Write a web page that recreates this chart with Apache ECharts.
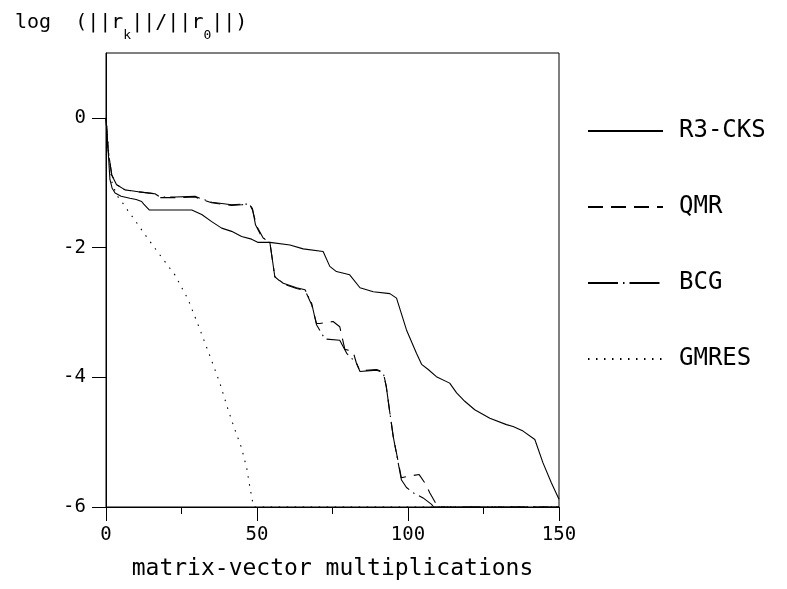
<!DOCTYPE html>
<html>
<head>
<meta charset="utf-8">
<script src="https://cdn.jsdelivr.net/npm/echarts@6/dist/echarts.min.js"></script>
<style>
	html, body { margin: 0; padding: 0; background: #fff; }
	#main { width: 787px; height: 589px; }
</style>
</head>
<body>
<div id="main"></div>
<script>
/* 数据 [matrix-vector multiplications, log(||r_k||/||r_0||)] */
var seriesNames = ['R3-CKS', 'QMR', 'BCG', 'GMRES'];
var xTicks = [0, 50, 100, 150];
var yTicks = [-6, -4, -2, 0];

var r3cks = [[0, 0], [0.7, -0.5], [1.3, -0.95], [2, -1.08], [3, -1.16], [5, -1.21], [7.9, -1.24], [10, -1.26],
	[11.8, -1.29], [12.5, -1.33], [14.3, -1.42], [20, -1.42], [28.4, -1.42], [31.7, -1.49], [35, -1.60],
	[38.3, -1.70], [41.6, -1.75], [44.9, -1.83], [48.2, -1.87], [50.4, -1.92], [54.3, -1.92], [60.9, -1.96],
	[65.3, -2.02], [71.9, -2.06], [74.1, -2.29], [76.3, -2.37], [80.7, -2.42], [84.1, -2.62], [88.5, -2.68],
	[94, -2.71], [96.2, -2.78], [99.5, -3.27], [102.8, -3.63], [104.5, -3.80], [106.7, -3.88], [109.4, -3.99],
	[113.8, -4.09], [116.1, -4.24], [118.8, -4.37], [122.1, -4.50], [127.1, -4.63], [132.6, -4.73],
	[134.8, -4.76], [138.1, -4.83], [142, -4.96], [144.7, -5.32], [147.5, -5.63], [150, -5.88]];

var qmr = [[0, 0], [0.7, -0.5], [1.9, -0.88], [3.5, -1.03], [6.3, -1.11], [10.7, -1.14], [16.2, -1.17],
	[18, -1.23], [23, -1.23], [29.5, -1.22], [31.7, -1.26], [35, -1.31], [41.6, -1.35], [44.9, -1.34],
	[47.5, -1.33], [48.5, -1.42], [49.9, -1.67], [52, -1.85], [54.3, -1.93], [55.9, -2.45], [58.7, -2.56],
	[63.1, -2.63], [65.9, -2.66], [68.1, -2.88], [69.7, -3.17], [70.8, -3.17], [75.2, -3.14], [77.4, -3.22],
	[79.1, -3.57], [81.8, -3.60], [82.9, -3.78], [84.1, -3.90], [89.6, -3.88], [91.8, -3.92], [92.8, -4.14],
	[94, -4.55], [95.1, -4.91], [97.8, -5.55], [99.5, -5.53], [103.7, -5.50], [105.6, -5.63], [107.2, -5.78],
	[109.4, -5.96], [110, -6], [150, -6]];

var bcg = [[0, 0], [0.7, -0.5], [1.9, -0.88], [3.5, -1.03], [6.3, -1.11], [10.7, -1.14], [16.2, -1.17],
	[17.9, -1.22], [22.8, -1.22], [29.5, -1.21], [31.7, -1.25], [35, -1.30], [41.6, -1.34], [44.9, -1.33],
	[47.5, -1.33], [48.5, -1.40], [49.5, -1.65], [51.5, -1.83], [54.3, -1.93], [55.9, -2.45], [58.7, -2.55],
	[63.1, -2.62], [65.9, -2.65], [68.1, -2.86], [69.7, -3.19], [72.5, -3.41], [77.4, -3.43], [79.7, -3.63],
	[82.9, -3.78], [84.1, -3.91], [89.6, -3.89], [91.8, -3.93], [92.8, -4.14], [94, -4.55], [95.1, -4.91],
	[97.8, -5.58], [99.5, -5.70], [101.7, -5.78], [105, -5.86], [107.8, -5.96], [108.5, -6], [150, -6]];

var gmres = [[0, 0], [1, -0.6], [2, -1.0], [3.5, -1.19], [5.5, -1.31], [7.4, -1.44], [9.6, -1.58],
	[12.9, -1.80], [17.3, -2.08], [22.8, -2.42], [27.2, -2.80], [30.9, -3.24], [34.4, -3.67], [37.7, -4.09],
	[40.5, -4.51], [42.7, -4.81], [44.9, -5.09], [46.6, -5.40], [47.6, -5.68], [48.7, -5.96], [49, -6], [150, -6]];

var mono = 'DejaVu Sans Mono';

function lineSeries(name, data, type) {
	return {
		name: name,
		type: 'line',
		data: data,
		symbol: 'none',
		animation: false,
		lineStyle: {
			color: '#000',
			width: 1.1,
			type: type
		}
	};
}

var myChart = echarts.init(document.getElementById('main'));
var option = {
	backgroundColor: '#fff',
	title: {
		left: 10,
		top: 8,
		text: '{a|log  (||r}{b|k}{a|||/||r}{b|0}{a|||)}',
		textStyle: {
			rich: {
				a: { fontFamily: mono, fontSize: 20, fontWeight: 'normal', color: '#000', lineHeight: 24, verticalAlign: 'top' },
				b: { fontFamily: mono, fontSize: 13, fontWeight: 'normal', color: '#000', lineHeight: 13, verticalAlign: 'top', padding: [16, 0, 0, 0] }
			}
		}
	},
	grid: {
		left: 106,
		right: 228,
		top: 53,
		bottom: 82,
		show: true,
		borderColor: '#000',
		borderWidth: 1
	},
	legend: {
		orient: 'vertical',
		left: 582,
		top: 113,
		itemWidth: 75,
		itemHeight: 14,
		itemGap: 50,
		data: seriesNames,
		itemStyle: { opacity: 0 },
		textStyle: {
			fontFamily: mono,
			fontSize: 24,
			lineHeight: 26,
			color: '#000',
			padding: [0, 0, 0, 11]
		}
	},
	xAxis: {
		type: 'value',
		min: 0,
		max: 150,
		interval: 50,
		name: 'matrix-vector multiplications',
		nameLocation: 'middle',
		nameGap: 51,
		nameTextStyle: { fontFamily: mono, fontSize: 23, color: '#000' },
		axisLine: { onZero: false, lineStyle: { color: '#000', width: 1 } },
		axisTick: { show: true, inside: false, length: 14, lineStyle: { color: '#000', width: 1 } },
		minorTick: { show: true, splitNumber: 2, length: 7, lineStyle: { color: '#000', width: 1 } },
		axisLabel: { fontFamily: mono, fontSize: 19, color: '#000', margin: 19 },
		splitLine: { show: false },
		minorSplitLine: { show: false }
	},
	yAxis: {
		type: 'value',
		min: -6,
		max: 1,
		interval: 2,
		axisLine: { show: true, onZero: false, lineStyle: { color: '#000', width: 1 } },
		axisTick: { show: true, inside: false, length: 14, lineStyle: { color: '#000', width: 1 }, customValues: yTicks },
		axisLabel: { fontFamily: mono, fontSize: 19, color: '#000', margin: 20, customValues: yTicks },
		splitLine: { show: false }
	},
	series: [
		lineSeries(seriesNames[0], r3cks, 'solid'),
		lineSeries(seriesNames[1], qmr, [15, 8]),
		lineSeries(seriesNames[2], bcg, [30, 5, 1.5, 5]),
		lineSeries(seriesNames[3], gmres, [1.5, 6.5])
	]
};
myChart.setOption(option);
</script>
</body>
</html>
